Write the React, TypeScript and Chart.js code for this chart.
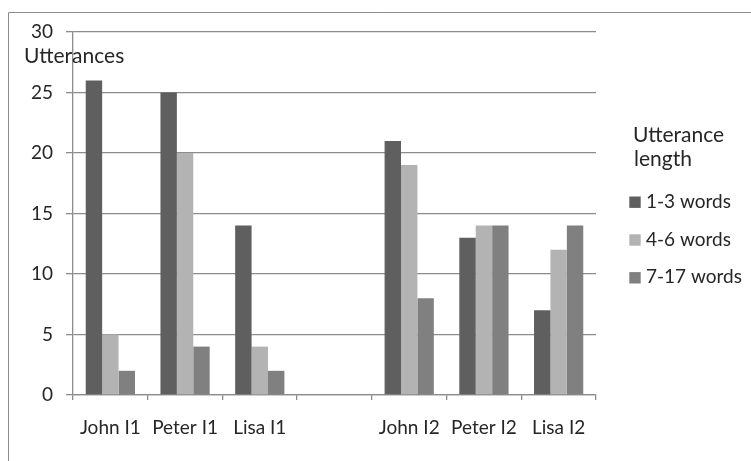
import React, { useEffect, useRef } from "react";
import { Chart, registerables } from "chart.js";

Chart.register(...registerables);

// Interview sessions (the empty slot separates the two interview rounds)
const categories = ["John I1", "Peter I1", "Lisa I1", "", "John I2", "Peter I2", "Lisa I2"];

// Number of utterances per length band
const shortUtterances = [26, 25, 14, null, 21, 13, 7];
const mediumUtterances = [5, 20, 4, null, 19, 14, 12];
const longUtterances = [2, 4, 2, null, 8, 14, 14];

const seriesLabels = ["1-3 words", "4-6 words", "7-17 words"];
const seriesColors = ["#5f5f5f", "#b3b3b3", "#808080"];

const legendTitle = ["Utterance", "length"];
const yAxisTitle = "Utterances";

const yMin = 0;
const yMax = 30;
const yStep = 5;

const FONT = "Lato";
const FONT_SIZE = 19;
const TITLE_FONT_SIZE = 21;
const TEXT_COLOR = "#262626";
const LINE_COLOR = "#8c8c8c";

const decorations = {
  id: "decorations",
  beforeDraw(chart: any) {
    const ctx = chart.ctx as CanvasRenderingContext2D;
    ctx.save();
    ctx.strokeStyle = LINE_COLOR;
    ctx.lineWidth = 1;
    ctx.beginPath();
    ctx.moveTo(8.5, chart.height);
    ctx.lineTo(8.5, 12.5);
    ctx.lineTo(chart.width, 12.5);
    ctx.stroke();
    ctx.restore();
  },
  afterDraw(chart: any) {
    const ctx = chart.ctx as CanvasRenderingContext2D;
    ctx.save();
    ctx.fillStyle = TEXT_COLOR;
    ctx.textAlign = "left";
    ctx.textBaseline = "alphabetic";

    // value axis caption and legend title
    ctx.font = `${TITLE_FONT_SIZE}px ${FONT}`;
    ctx.fillText(yAxisTitle, 24, 63);
    ctx.fillText(legendTitle[0], 633, 142);
    ctx.fillText(legendTitle[1], 634, 166);

    // legend entries
    ctx.font = `${FONT_SIZE}px ${FONT}`;
    chart.data.datasets.forEach((ds: any, i: number) => {
      const cy = 202.2 + i * 37.8;
      ctx.fillStyle = ds.backgroundColor;
      ctx.fillRect(629.3, cy - 5.7, 11.4, 11.4);
      ctx.fillStyle = TEXT_COLOR;
      ctx.fillText(ds.label, 646, cy + 5.5);
    });
    ctx.restore();
  },
};

export default function App() {
  const canvasRef = useRef<HTMLCanvasElement | null>(null);

  useEffect(() => {
    if (!canvasRef.current) return;
    const seriesData = [shortUtterances, mediumUtterances, longUtterances];
    const chart = new Chart(canvasRef.current, {
      type: "bar",
      data: {
        labels: categories,
        datasets: seriesLabels.map((label, i) => ({
          label,
          data: seriesData[i],
          backgroundColor: seriesColors[i],
          borderWidth: 0,
          barPercentage: 1,
          categoryPercentage: 0.659,
        })),
      },
      options: {
        responsive: false,
        animation: false,
        devicePixelRatio: 1,
        layout: { padding: { left: 0, top: 32, right: 155, bottom: 0 } },
        plugins: {
          legend: { display: false },
          tooltip: { enabled: false },
        },
        scales: {
          x: {
            afterFit(scale: any) {
              scale.height = 66;
            },
            grid: {
              display: true,
              drawOnChartArea: false,
              drawTicks: true,
              tickLength: 5,
              color: LINE_COLOR,
              lineWidth: 1.3,
              offset: true,
            },
            border: { display: true, color: LINE_COLOR, width: 1.3 },
            ticks: {
              autoSkip: false,
              maxRotation: 0,
              padding: 16,
              color: TEXT_COLOR,
              font: { family: FONT, size: FONT_SIZE },
            },
          },
          y: {
            min: yMin,
            max: yMax,
            afterFit(scale: any) {
              scale.width = 73;
            },
            grid: {
              color: LINE_COLOR,
              lineWidth: 1.3,
              tickLength: 7,
              drawTicks: true,
            },
            border: { display: true, color: LINE_COLOR, width: 1.3 },
            ticks: {
              stepSize: yStep,
              padding: 13,
              color: TEXT_COLOR,
              font: { family: FONT, size: FONT_SIZE },
            },
          },
        },
      },
      plugins: [decorations],
    });
    return () => chart.destroy();
  }, []);

  return (
    <div style={{ position: "fixed", left: 0, top: 0, width: 751, height: 461, background: "#fff" }}>
      <canvas ref={canvasRef} width={751} height={461} style={{ display: "block" }} />
    </div>
  );
}
